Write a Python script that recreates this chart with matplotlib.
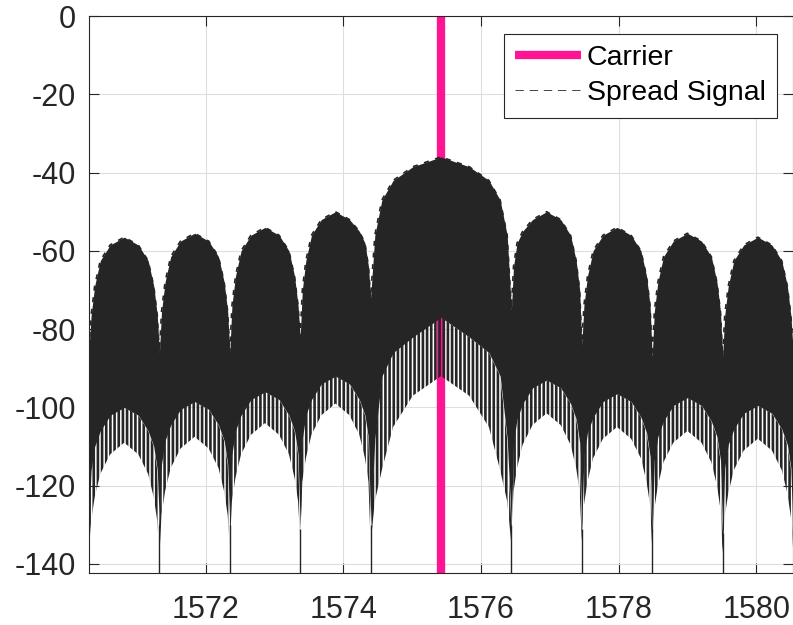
import numpy as np
import matplotlib.pyplot as plt

# spectrum: lobe edges (nulls) in MHz, then dB values
# at fixed fractions across each lobe
null_mhz = [1570.305, 1571.328, 1572.351, 1573.374, 1574.397,
            1576.443, 1577.466, 1578.489, 1579.512, 1580.535]
lobe_frac = [0, .03, .08, .16, .3, .5, .7, .84, .92, .97, 1]

# top edge of the dark band
upper_db = [
    [-85, -76.5, -69, -62.5, -58.5, -56.5, -58.5, -62.5, -69, -76.5, -86],
    [-86, -75.5, -68, -61.5, -57.5, -55.5, -57.5, -61.5, -68, -75.5, -86],
    [-86, -74, -66.5, -60, -56, -54, -56, -60, -66.5, -74, -82],
    [-82, -70, -62.5, -56, -52, -50, -52, -55, -58, -64, -72],
    [-72, -56, -47, -42, -38.5, -36, -38.5, -42, -47, -56, -75],
    [-75, -64, -58, -55, -52, -50, -52, -56, -62.5, -70, -84],
    [-84, -74, -66.5, -60, -56, -54, -56, -60, -66.5, -74, -87],
    [-87, -75.5, -68, -61.5, -57.5, -55.5, -57.5, -61.5, -68, -75.5, -87],
    [-87, -76.5, -69, -62.5, -58.5, -56.5, -58.5, -62.5, -69, -76.5, -85],
]
# bottom of the solid part
lower_db = [
    [-128, -116, -110, -106, -102, -100, -102, -106, -110, -116, -130],
    [-130, -114.5, -108.5, -104.5, -100.5, -98.5, -100.5, -104.5, -108.5, -114.5, -130],
    [-130, -112, -106, -102, -98, -96, -98, -102, -106, -112, -131],
    [-131, -108, -102, -98, -94, -92, -94, -98, -102, -108, -130],
    [-130, -108, -92, -86, -82, -77, -82, -86, -92, -108, -130],
    [-130, -109, -103, -99, -95, -93, -95, -99, -103, -109, -131],
    [-131, -112.5, -106.5, -102.5, -98.5, -96.5, -98.5, -102.5, -106.5, -112.5, -131],
    [-131, -113.5, -107.5, -103.5, -99.5, -97.5, -99.5, -103.5, -107.5, -113.5, -132],
    [-132, -115.5, -109.5, -105.5, -101.5, -99.5, -101.5, -105.5, -109.5, -115.5, -134],
]
# how far the downward spikes reach
spike_db = [
    [-136, -129, -123, -117, -112, -109, -112, -117, -123, -129, -138],
    [-138, -127.5, -121.5, -115.5, -110.5, -107.5, -110.5, -115.5, -121.5, -127.5, -136],
    [-136, -124, -118, -112, -107, -104, -107, -112, -118, -124, -134],
    [-134, -119, -113, -107, -102, -99, -102, -107, -113, -119, -135],
    [-135, -124, -116, -105, -97, -92, -97, -105, -116, -124, -135],
    [-135, -121.5, -115.5, -109.5, -104.5, -101.5, -104.5, -109.5, -115.5, -121.5, -134],
    [-134, -125, -119, -113, -108, -105, -108, -113, -119, -125, -136],
    [-136, -126, -120, -114, -109, -106, -109, -114, -120, -126, -137],
    [-137, -128, -122, -116, -111, -108, -111, -116, -122, -128, -136],
]

carrier_mhz = [1575.42, 1575.42]
carrier_db = [0, -300]

ink = '#252525'
pink = '#ff1493'

plt.rcParams['font.family'] = ['Liberation Sans', 'DejaVu Sans']
plt.rcParams['axes.unicode_minus'] = False
plt.rcParams['hatch.linewidth'] = 1.9

frac = np.array(lobe_frac)
x = np.concatenate([lo + frac * (hi - lo) for lo, hi in zip(null_mhz[:-1], null_mhz[1:])])
up = np.concatenate(upper_db)
low = np.concatenate(lower_db)
spk = np.concatenate(spike_db)

fig = plt.figure(figsize=(7.93, 6.25), dpi=100)
ax = fig.add_axes([89 / 793, 52 / 625, 704 / 793, 557 / 625])
ymin = -142.3

ax.plot(carrier_mhz, carrier_db, color=pink, lw=6, solid_capstyle='butt',
        zorder=2, label='Carrier')
ax.fill_between(x, low, up, color=ink, lw=0, zorder=3)
ax.fill_between(x, spk, low, facecolor='none', edgecolor=ink, hatch='||||',
                lw=0, zorder=3)
ax.plot(x, up, color=ink, lw=1.2, dashes=(3, 4), zorder=3, label='Spread Signal')
ax.vlines(null_mhz[1:-1], ymin, [row[0] for row in lower_db[1:]], color=ink,
          lw=1, zorder=3)

ax.set_xlim(null_mhz[0], null_mhz[-1])
ax.set_ylim(ymin, 0)
ax.set_xticks(np.arange(1572, 1581, 2))
ax.set_yticks(np.arange(-140, 1, 20))
ax.grid(True, color='#dedede', lw=0.8, zorder=0)
ax.set_axisbelow(True)
ax.tick_params(direction='in', length=7, width=0.8, top=True, right=True,
               labelsize=22, color='#262626', labelcolor='#262626')
ax.tick_params(axis='y', pad=9.5)
ax.tick_params(axis='x', pad=16)
for s in ax.spines.values():
    s.set_color('#262626')
    s.set_linewidth(0.8)

leg = ax.legend(loc='upper right', bbox_to_anchor=(0.977, 0.968), borderaxespad=0,
                fontsize=20.5, handlelength=2.3, handletextpad=0.2,
                borderpad=0.4, labelspacing=0.32, fancybox=False, framealpha=1,
                edgecolor='#262626')
leg.get_frame().set_linewidth(0.8)
leg.get_lines()[1].set_linewidth(0.6)
leg.get_lines()[1].set_dashes((10, 7))

fig.savefig('out.png', dpi=100)
